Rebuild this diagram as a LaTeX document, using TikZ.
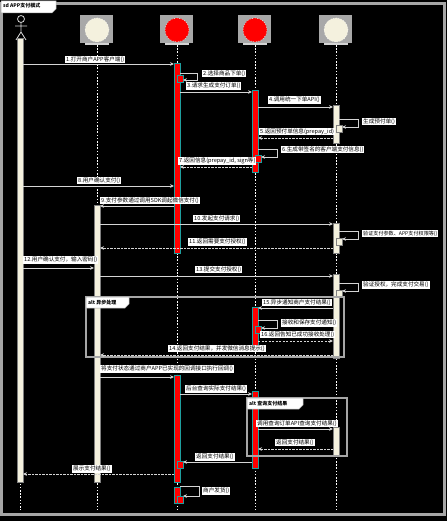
\documentclass[tikz,border=0pt]{standalone}
\usepackage{fontspec}
\setmainfont{Noto Sans CJK SC}
\usetikzlibrary{arrows.meta,calc}
\definecolor{cream}{HTML}{F4F1DE}
\definecolor{linec}{HTML}{D4D4D4}
\definecolor{framec}{HTML}{A6A6A6}
\definecolor{headbg}{HTML}{A8A8A8}
\definecolor{barteal}{HTML}{1E9E9E}
\begin{document}
\begin{tikzpicture}[x=1pt,y=-1pt,
  lbl/.style={fill=white,text=black,inner xsep=1pt,inner ysep=0.8pt,anchor=south west,font=\fontsize{5.6}{6}\selectfont},
  msg/.style={draw=linec,line width=0.7pt,-{Stealth[length=4pt,width=3.6pt]}},
  ret/.style={msg,dash pattern=on 2.2pt off 1.3pt},
  life/.style={draw=white,line width=0.6pt,dash pattern=on 1.6pt off 1.6pt},
  headc/.style={circle,minimum size=24pt,inner sep=0pt,draw=white,dotted,line width=0.6pt},
  barc/.style={fill=cream,draw=gray,line width=0.4pt},
  barr/.style={fill=red,draw=barteal,line width=0.5pt},
  fr/.style={draw=framec,line width=1.3pt},
  tagshape/.style={fill=white,draw=framec,line width=0.5pt},
  tag/.style={text=black,font=\bfseries\fontsize{5}{5}\selectfont,inner sep=1pt,anchor=north west},
]
\fill[black] (0,0) rectangle (447,521);
\useasboundingbox (0,0) rectangle (447,521);

% outer frame
\draw[framec,line width=3pt] (1.5,3.5) rectangle (444.5,514);
\fill[tagshape] (1,1) -- (56,1) -- (56,9) -- (52,13) -- (1,13) -- cycle;
\node[tag] (sdtag) at (2,2.5) {sd APP支付模式};

% heads
\foreach \n/\x/\c in {C/97/cream, A/177/red, B/255/red, W/336/cream} {
  \fill[headbg] (\x-17,15) rectangle (\x+16,43);
  \node[headc, fill=\c] (\n) at (\x,30) {};
  \fill[linec] (\x-12,43) rectangle (\x+12,45);
}
% actor
\coordinate (U) at (20,30);
\draw[linec,line width=0.8pt] (21,19) circle (3.5);
\draw[linec,line width=0.8pt] (21,22.5) -- (21,32) (15,26) -- (27,26) (16,40) -- (21,32) -- (26,40);

% lifelines
\draw[life] (U|-0,42) -- (U|-0,510);
\foreach \n in {C,A,B,W} { \draw[life] (\n|-0,45) -- (\n|-0,510); }

% activation bars
\draw[barc] (17,38) rectangle (23,482);
\draw[barc] (94,205) rectangle (100,482);
\draw[barr] (174,63) rectangle (180,253);
\draw[barr] (177,75) rectangle (183,82);
\draw[barr] (174,375) rectangle (180,482);
\draw[barr] (177,461) rectangle (183,468);
\draw[barr] (174,487) rectangle (180,503);
\draw[barr] (177,496) rectangle (183,503);
\draw[barr] (252,90) rectangle (258,172);
\draw[barr] (255,155) rectangle (261,162);
\draw[barr] (252,307) rectangle (258,347);
\draw[barr] (255,326) rectangle (261,333);
\draw[barr] (252,391) rectangle (258,468);
\draw[barc] (333,105) rectangle (339,143);
\draw[barc] (336,125) rectangle (342,132);
\draw[barc] (333,223) rectangle (339,253);
\draw[barc] (336,238) rectangle (342,245);
\draw[barc] (333,274) rectangle (339,358);
\draw[barc] (336,290) rectangle (342,297);
\draw[barc] (333,427) rectangle (339,455);

% combined fragments
\draw[fr] (86,297) rectangle (344,357);
\fill[tagshape] (86,297) -- (129,297) -- (129,304) -- (125,308) -- (86,308) -- cycle;
\node[tag] (alt1) at (87,299) {alt 异步处理};
\draw[fr] (247,398) rectangle (347,456);
\fill[tagshape] (247,398) -- (303,398) -- (303,405) -- (299,409) -- (247,409) -- cycle;
\node[tag] (alt2) at (248,400) {alt 查询支付结果};

% messages
\draw[msg,shorten <=3pt,shorten >=3pt] (U|-0,64) -- (A|-0,64);
\node[lbl] (m1) at (65,63.5) {1.打开商户APP客户端()};
\draw[msg] ($(A|-0,73)+(3,0)$) -- ++(17,0) -- ++(0,7) -- ++(-14,0);
\node[lbl] (m2) at (202,77.5) {2.选择商品下单()};
\draw[msg,shorten <=3pt,shorten >=3pt] (A|-0,92) -- (B|-0,92);
\node[lbl] (m3) at (186,90) {3.请求生成支付订单()};
\draw[msg,shorten <=3pt,shorten >=3pt] (B|-0,107) -- (W|-0,107);
\node[lbl] (m4) at (268,104) {4.调用统一下单API()};
\draw[msg] ($(W|-0,119)+(3,0)$) -- ++(19,0) -- ++(0,8) -- ++(-16,0);
\node[lbl] (s1) at (362,125.5) {生成预付单()};
\draw[ret,shorten <=3pt,shorten >=3pt] (W|-0,138) -- (B|-0,138);
\node[lbl] (m5) at (259,135.5) {5.返回预付单信息(prepay\_id)};
\draw[msg] ($(B|-0,149)+(3,0)$) -- ++(19,0) -- ++(0,8) -- ++(-16,0);
\node[lbl] (m6) at (281,153.5) {6.生成带签名的客户端支付信息()};
\draw[ret,shorten <=3pt,shorten >=3pt] (B|-0,167) -- (A|-0,167);
\node[lbl] (m7) at (178,165) {7.返回信息(prepay\_id, sign等)};
\draw[msg,shorten <=3pt,shorten >=3pt] (U|-0,186) -- (A|-0,186);
\node[lbl] (m8) at (77,184.5) {8.用户确认支付()};
\draw[msg,shorten <=3pt,shorten >=3pt] (A|-0,206) -- (C|-0,206);
\node[lbl] (m9) at (100,204.5) {9.支付参数通过调用SDK调起微信支付()};
\draw[msg,shorten <=3pt,shorten >=3pt] (C|-0,224) -- (W|-0,224);
\node[lbl] (m10) at (193,222.5) {10.发起支付请求()};
\draw[msg] ($(W|-0,231)+(3,0)$) -- ++(19,0) -- ++(0,8) -- ++(-16,0);
\node[lbl,font=\fontsize{5.1}{6}\selectfont] (s2) at (362,237.5) {验证支付参数、APP支付权限等()};
\draw[ret,shorten <=3pt,shorten >=3pt] (W|-0,248) -- (C|-0,248);
\node[lbl] (m11) at (188,246) {11.返回需要支付授权()};
\draw[msg,shorten <=3pt,shorten >=3pt] (U|-0,268) -- (C|-0,268);
\node[lbl] (m12) at (23,264) {12.用户确认支付，输入密码()};
\draw[msg,shorten <=3pt,shorten >=3pt] (C|-0,276) -- (W|-0,276);
\node[lbl] (m13) at (195,273.5) {13.提交支付授权()};
\draw[msg] ($(W|-0,283)+(3,0)$) -- ++(19,0) -- ++(0,8) -- ++(-16,0);
\node[lbl] (s3) at (362,289) {验证授权，完成支付交易()};
\draw[msg,shorten <=3pt,shorten >=3pt] (W|-0,308) -- (B|-0,308);
\node[lbl] (m15) at (262,306.5) {15.异步通知商户支付结果()};
\draw[msg] ($(B|-0,320)+(3,0)$) -- ++(19,0) -- ++(0,8) -- ++(-16,0);
\node[lbl] (s4) at (281,327) {接收和保存支付通知()};
\draw[ret,shorten <=3pt,shorten >=3pt] (B|-0,341) -- (W|-0,341);
\node[lbl] (m16) at (260,338.5) {16.返回告知已成功接收处理()};
\draw[ret,shorten <=3pt,shorten >=3pt] (W|-0,355) -- (C|-0,355);
\node[lbl] (m14) at (168,352.5) {14.返回支付结果，并发微信消息提示()};
\draw[msg,shorten <=3pt,shorten >=3pt] (C|-0,377) -- (A|-0,377);
\node[lbl] (m17) at (100,373) {将支付状态通过商户APP已实现的回调接口执行回调()};
\draw[msg,shorten <=3pt,shorten >=3pt] (A|-0,394) -- (B|-0,394);
\node[lbl] (m18) at (185,393) {后台查询实际支付结果()};
\draw[msg,shorten <=3pt,shorten >=3pt] (B|-0,429) -- (W|-0,429);
\node[lbl] (m19) at (256,427.5) {调用查询订单API查询支付结果()};
\draw[ret,shorten <=3pt,shorten >=3pt] (W|-0,449) -- (B|-0,449);
\node[lbl] (m20) at (275,446.5) {返回支付结果()};
\draw[msg,shorten <=3pt,shorten >=6pt] (B|-0,462) -- (A|-0,462);
\node[lbl] (m21) at (195,461) {返回支付结果()};
\draw[ret,shorten <=3pt,shorten >=3pt] (A|-0,474) -- (U|-0,474);
\node[lbl] (m22) at (72,473) {展示支付结果()};
\draw[msg] ($(A|-0,486)+(3,0)$) -- ++(19,0) -- ++(0,10) -- ++(-16,0);
\node[lbl] (s5) at (202,495) {商户发货()};
\end{tikzpicture}
\end{document}
